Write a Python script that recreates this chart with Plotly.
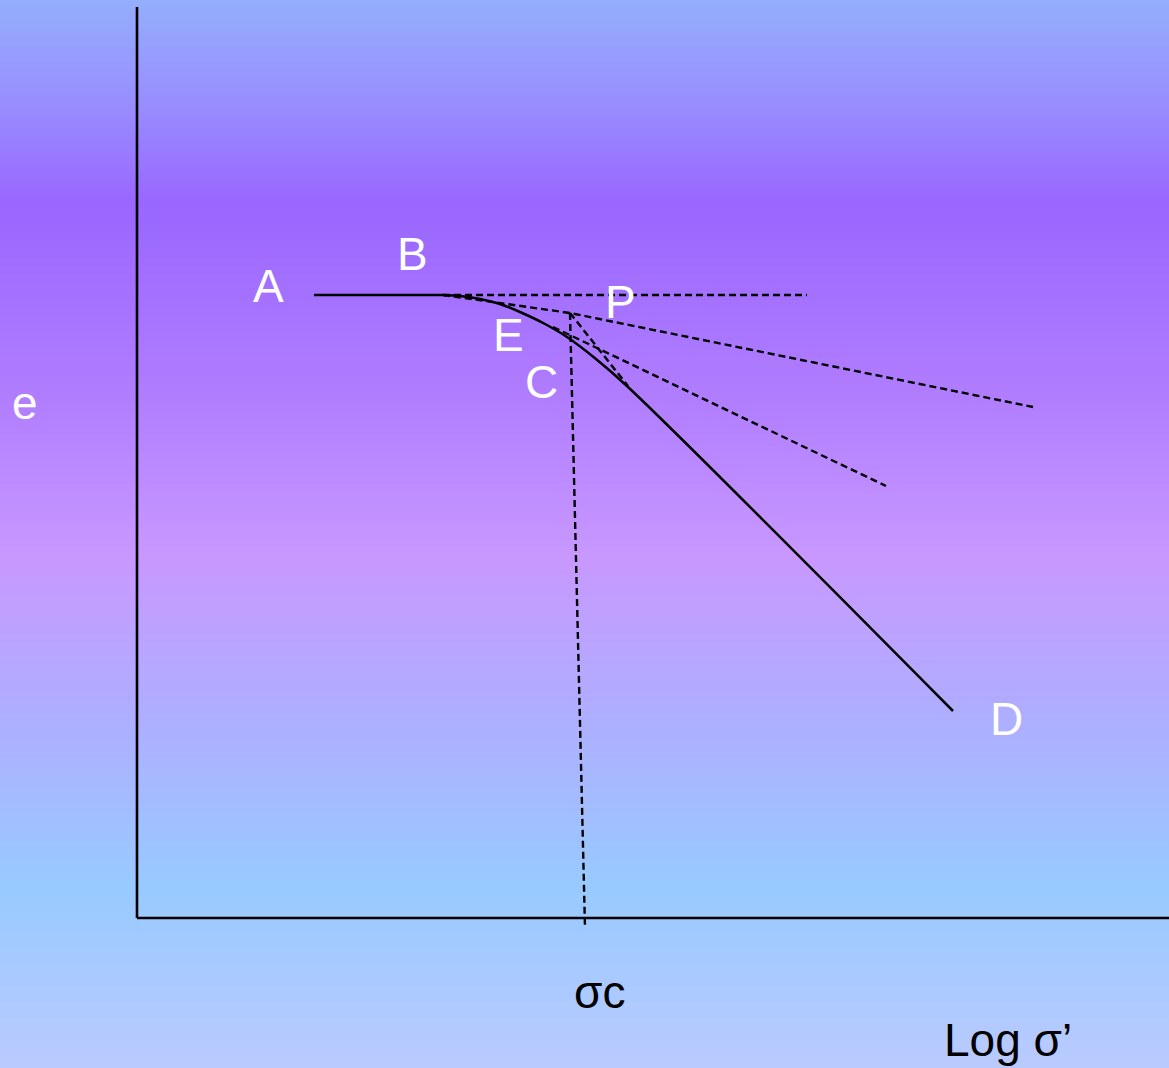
import plotly.graph_objects as go

# --- data (diagram units: x to the right, y downward) ---
flat_x = [314, 443]
flat_y = [295, 295]

curve_x = [443, 460, 480, 500, 520, 545, 567, 596, 628, 953]
curve_y = [295, 296, 299, 304, 312, 324, 337, 359, 387, 711]

horiz_x = [443, 807]
horiz_y = [295, 295]

tangent_x = [443, 570, 1033]
tangent_y = [295, 313, 407]

bisector_x = [553, 886]
bisector_y = [327, 486]

p_to_curve_x = [570, 628]
p_to_curve_y = [313, 386]

sigma_c_x = [570, 585]
sigma_c_y = [313, 928]

yaxis_x = [137, 137]
yaxis_y = [7, 918]
xaxis_x = [137, 1169]
xaxis_y = [918, 918]

point_labels = ["A", "B", "P", "E", "C", "D", "e"]
point_label_x = [268, 412, 620, 508, 541, 1006, 25]
point_label_y = [286, 254, 302, 335, 382, 719, 403]

axis_labels = ["σc", "Log σ’"]
axis_label_x = [599, 1008]
axis_label_y = [992, 1040]

# background gradient stops (position 0..1 from top, colour)
bg_stops = [
    (0.00, "rgb(148,174,252)"),
    (0.10, "rgb(152,140,255)"),
    (0.19, "rgb(153,102,255)"),
    (0.37, "rgb(176,125,255)"),
    (0.52, "rgb(200,152,255)"),
    (0.66, "rgb(176,172,255)"),
    (0.83, "rgb(152,202,255)"),
    (1.00, "rgb(186,202,255)"),
]

W, H = 1169, 1068

fig = go.Figure()

# gradient background as a heatmap
rows = list(range(0, H + 1, 4))
fig.add_trace(go.Heatmap(
    x=[0, W], y=rows, z=[[r / H, r / H] for r in rows],
    colorscale=[[p, c] for p, c in bg_stops], zmin=0, zmax=1,
    showscale=False, hoverinfo="skip", zsmooth="best",
))

dashed = dict(color="black", width=2.4, dash="7px,4px")

fig.add_trace(go.Scatter(x=yaxis_x, y=yaxis_y, mode="lines",
                         line=dict(color="black", width=2.6), hoverinfo="skip"))
fig.add_trace(go.Scatter(x=xaxis_x, y=xaxis_y, mode="lines",
                         line=dict(color="black", width=2.6), hoverinfo="skip"))
fig.add_trace(go.Scatter(x=horiz_x, y=horiz_y, mode="lines", line=dashed, hoverinfo="skip"))
fig.add_trace(go.Scatter(x=tangent_x, y=tangent_y, mode="lines", line=dashed, hoverinfo="skip"))
fig.add_trace(go.Scatter(x=bisector_x, y=bisector_y, mode="lines", line=dashed, hoverinfo="skip"))
fig.add_trace(go.Scatter(x=p_to_curve_x, y=p_to_curve_y, mode="lines", line=dashed, hoverinfo="skip"))
fig.add_trace(go.Scatter(x=sigma_c_x, y=sigma_c_y, mode="lines", line=dashed, hoverinfo="skip"))
fig.add_trace(go.Scatter(x=flat_x, y=flat_y, mode="lines",
                         line=dict(color="black", width=2.5), hoverinfo="skip"))
fig.add_trace(go.Scatter(x=curve_x, y=curve_y, mode="lines",
                         line=dict(color="black", width=2.5, shape="spline", smoothing=1.0),
                         hoverinfo="skip"))

font_family = "Liberation Sans, Arial, sans-serif"
for t, x, y in zip(point_labels, point_label_x, point_label_y):
    fig.add_annotation(x=x, y=y, text=t, showarrow=False, xanchor="center", yanchor="middle",
                       font=dict(family=font_family, size=46, color="white"))
for t, x, y in zip(axis_labels, axis_label_x, axis_label_y):
    fig.add_annotation(x=x, y=y, text=t, showarrow=False, xanchor="center", yanchor="middle",
                       font=dict(family=font_family, size=46, color="black"))

fig.update_layout(
    width=W, height=H, autosize=False,
    margin=dict(l=0, r=0, t=0, b=0, pad=0),
    showlegend=False,
    paper_bgcolor="rgb(170,160,255)", plot_bgcolor="rgba(0,0,0,0)",
    xaxis=dict(range=[0, W], visible=False, fixedrange=True),
    yaxis=dict(range=[H, 0], visible=False, fixedrange=True),
)

fig.write_html("out.html", config={"displayModeBar": False},
               post_script="document.body.style.margin='0';document.body.style.overflow='hidden';")
